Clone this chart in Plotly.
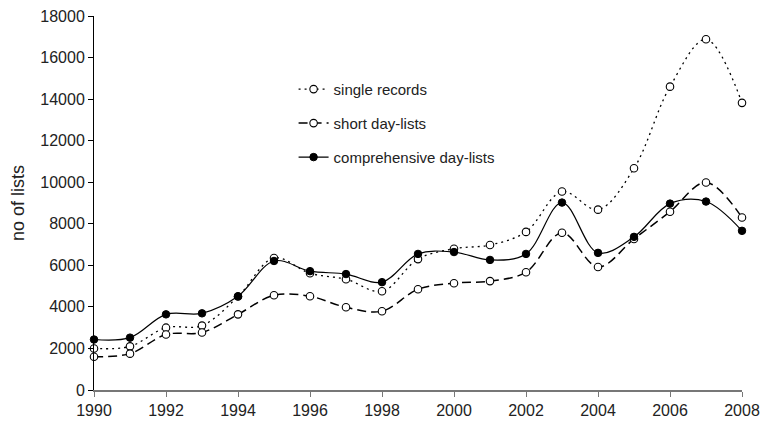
import plotly.graph_objects as go

years = list(range(1990, 2009))
single_records = [2000, 2100, 3000, 3100, 4500, 6350, 5620, 5330, 4750, 6300, 6800, 6980, 7610,
                  9550, 8680, 10670, 14600, 16880, 13820]
short_day_lists = [1600, 1750, 2670, 2770, 3640, 4560, 4510, 3980, 3790, 4850, 5140, 5240, 5670,
                   7570, 5920, 7270, 8580, 9990, 8300]
comprehensive_day_lists = [2430, 2520, 3640, 3690, 4510, 6210, 5720, 5580, 5190, 6550, 6640, 6260, 6550,
                           9020, 6600, 7370, 8970, 9070, 7660]

y_ticks = list(range(0, 18001, 2000))
y_tick_labels = [str(v) for v in y_ticks]
x_ticks = list(range(1990, 2009, 2))
x_tick_labels = [str(v) for v in x_ticks]

FONT = "Liberation Sans, Arial, sans-serif"

fig = go.Figure()
fig.add_trace(go.Scatter(
    x=years, y=single_records, name="single records", mode="lines+markers",
    line=dict(color="black", width=1.3, dash="2px,4px", shape="spline", smoothing=1),
    marker=dict(symbol="circle", size=7.5, color="white", line=dict(color="black", width=1.1)),
    cliponaxis=False, legendgroup="a"))
fig.add_trace(go.Scatter(
    x=years, y=short_day_lists, name="short day-lists", mode="lines+markers",
    line=dict(color="black", width=1.5, dash="9px,5px", shape="spline", smoothing=1),
    marker=dict(symbol="circle", size=7.5, color="white", line=dict(color="black", width=1.1)),
    cliponaxis=False, legendgroup="b"))
fig.add_trace(go.Scatter(
    x=years, y=comprehensive_day_lists, name="comprehensive day-lists", mode="lines+markers",
    line=dict(color="black", width=1.2, shape="spline", smoothing=1),
    marker=dict(symbol="circle", size=7.5, color="black", line=dict(color="black", width=1)),
    cliponaxis=False, legendgroup="c"))

fig.update_layout(
    width=760, height=422,
    margin=dict(l=94, r=18, t=16, b=32, autoexpand=False),
    paper_bgcolor="white", plot_bgcolor="white",
    font=dict(family=FONT, size=16, color="#222"),
    showlegend=True,
    legend=dict(x=0.308, y=0.848, xanchor="left", yanchor="top",
                font=dict(family=FONT, size=15, color="#222"),
                bgcolor="rgba(0,0,0,0)", tracegroupgap=11.5, itemwidth=30),
    xaxis=dict(range=[1990, 2008], tickvals=x_ticks, ticktext=x_tick_labels, ticks="outside", ticklen=5,
               tickcolor="#777", showline=True, linecolor="#777", linewidth=1.5,
               showgrid=False, zeroline=False, tickfont=dict(size=16), automargin=False),
    yaxis=dict(range=[0, 18000], tickvals=y_ticks, ticktext=y_tick_labels, ticks="outside", ticklen=5,
               tickcolor="black", showline=True, linecolor="black", linewidth=1,
               showgrid=False, zeroline=False, tickfont=dict(size=16), automargin=False,
               title=dict(text="no of lists", font=dict(size=18), standoff=10)),
)

fig.write_html("out.html")
